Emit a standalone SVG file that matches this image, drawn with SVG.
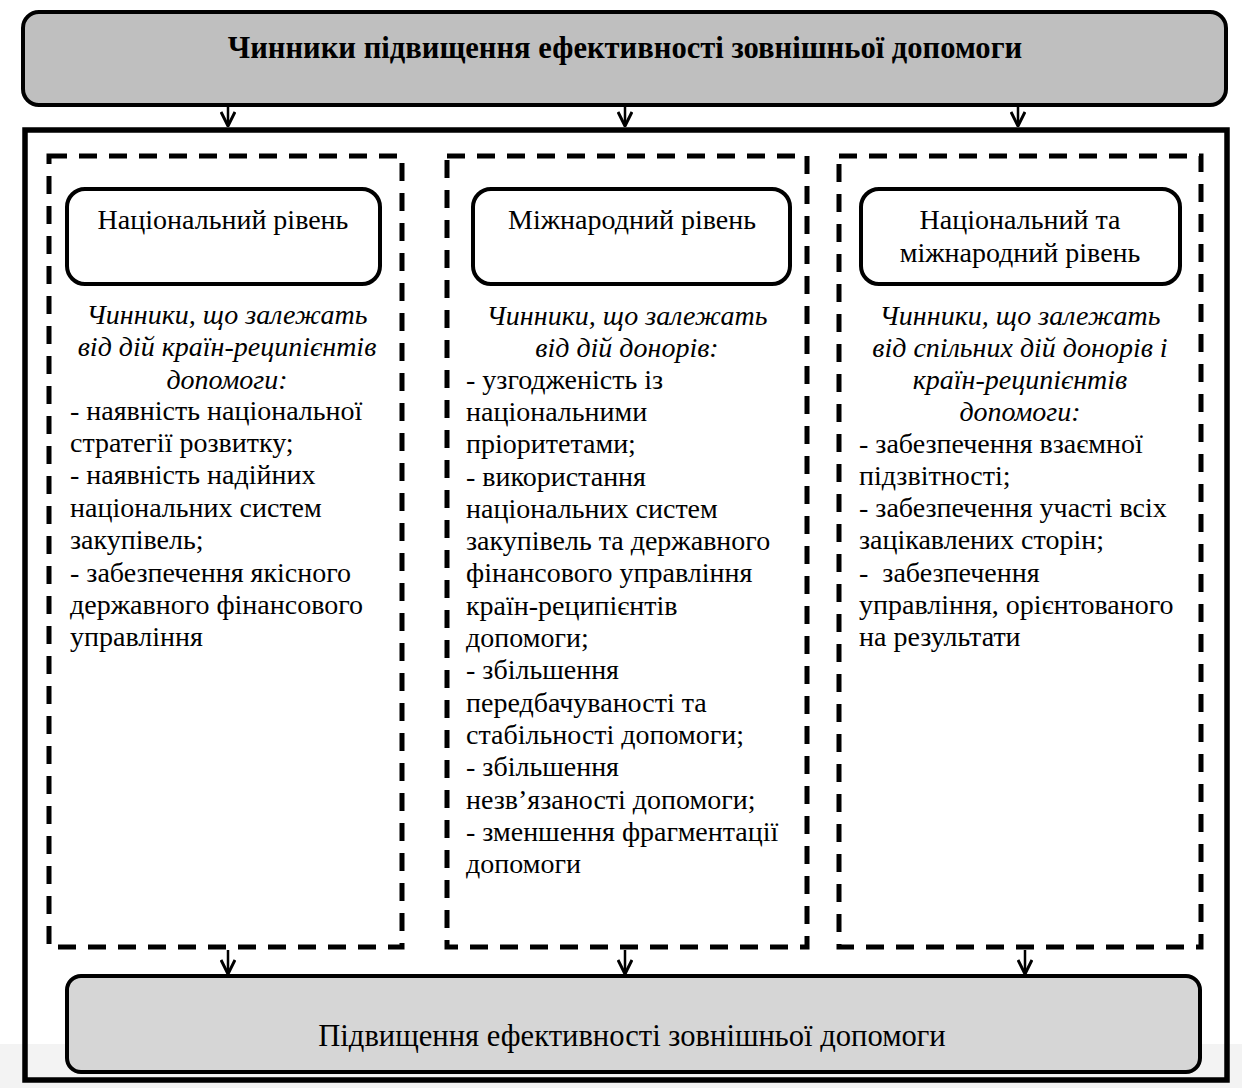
<svg xmlns="http://www.w3.org/2000/svg" width="1242" height="1088" viewBox="0 0 1242 1088">
<defs>
<style>
.box{stroke:#000;stroke-width:4;}
.dash{fill:none;stroke:#000;stroke-width:5;stroke-dasharray:18 12;}
.conn{stroke:#000;stroke-width:2.5;fill:none;}
.t{font-family:"Liberation Serif","Times New Roman",serif;font-size:28px;fill:#000;}
.big{font-size:30.6px;}
.it{font-family:"Liberation Serif","Times New Roman",serif;font-size:28px;font-style:italic;fill:#000;text-anchor:middle;}
.c{text-anchor:middle;}
</style>
<marker id="v" viewBox="0 0 16 16" refX="15" refY="8" markerWidth="16" markerHeight="16" markerUnits="userSpaceOnUse" orient="auto">
<path d="M1,1 L15,8 L1,15" fill="none" stroke="#000" stroke-width="3"/>
</marker>
</defs>
<rect width="1242" height="1088" fill="#fff"/>
<rect x="0" y="1044" width="1242" height="44" fill="#f3f3f3"/>
<g id="title">
<rect class="box" x="23" y="12" width="1203" height="93" rx="16" fill="#bfbfbf"/>
<text class="t c big" x="625" y="58" font-weight="bold">Чинники підвищення ефективності зовнішньої допомоги</text>
</g>
<g id="frame">
<rect x="25" y="130" width="1202" height="950" fill="none" stroke="#000" stroke-width="5.5"/>
</g>
<g id="col1">
<rect class="dash" x="49" y="156" width="353" height="791"/>
<rect class="box" x="67" y="189" width="313" height="95" rx="18" fill="#fff"/>
<text class="t c" x="223" y="229">Національний рівень</text>
<text class="it" x="227" y="324">Чинники, що залежать</text>
<text class="it" x="227" y="356">від дій країн-реципієнтів</text>
<text class="it" x="227" y="389">допомоги:</text>
<text class="t" x="70"><tspan x="70" y="420">- наявність національної</tspan><tspan x="70" y="452">стратегії розвитку;</tspan><tspan x="70" y="484">- наявність надійних</tspan><tspan x="70" y="517">національних систем</tspan><tspan x="70" y="549">закупівель;</tspan><tspan x="70" y="582">- забезпечення якісного</tspan><tspan x="70" y="614">державного фінансового</tspan><tspan x="70" y="646">управління</tspan></text>
</g>
<g id="col2">
<rect class="dash" x="447" y="156" width="360" height="791"/>
<rect class="box" x="473" y="189" width="317" height="95" rx="18" fill="#fff"/>
<text class="t c" x="632" y="229">Міжнародний рівень</text>
<text class="it" x="627" y="325">Чинники, що залежать</text>
<text class="it" x="627" y="357">від дій донорів:</text>
<text class="t" x="466"><tspan x="466" y="389">- узгодженість із</tspan><tspan x="466" y="421">національними</tspan><tspan x="466" y="453">пріоритетами;</tspan><tspan x="466" y="486">- використання</tspan><tspan x="466" y="518">національних систем</tspan><tspan x="466" y="550">закупівель та державного</tspan><tspan x="466" y="582">фінансового управління</tspan><tspan x="466" y="615">країн-реципієнтів</tspan><tspan x="466" y="647">допомоги;</tspan><tspan x="466" y="679">- збільшення</tspan><tspan x="466" y="712">передбачуваності та</tspan><tspan x="466" y="744">стабільності допомоги;</tspan><tspan x="466" y="776">- збільшення</tspan><tspan x="466" y="809">незв’язаності допомоги;</tspan><tspan x="466" y="841">- зменшення фрагментації</tspan><tspan x="466" y="873">допомоги</tspan></text>
</g>
<g id="col3">
<rect class="dash" x="839" y="156" width="362" height="791"/>
<rect class="box" x="861" y="189" width="319" height="95" rx="18" fill="#fff"/>
<text class="t c" x="1020" y="229">Національний та</text>
<text class="t c" x="1020" y="262">міжнародний рівень</text>
<text class="it" x="1020" y="325">Чинники, що залежать</text>
<text class="it" x="1020" y="357">від спільних дій донорів і</text>
<text class="it" x="1020" y="389">країн-реципієнтів</text>
<text class="it" x="1020" y="421">допомоги:</text>
<text class="t" x="859"><tspan x="859" y="453">- забезпечення взаємної</tspan><tspan x="859" y="485">підзвітності;</tspan><tspan x="859" y="517">- забезпечення участі всіх</tspan><tspan x="859" y="549">зацікавлених сторін;</tspan><tspan x="859" y="582" xml:space="preserve">-  забезпечення</tspan><tspan x="859" y="614">управління, орієнтованого</tspan><tspan x="859" y="646">на результати</tspan></text>
</g>
<g id="result">
<rect class="box" x="67" y="976" width="1133" height="96" rx="14" fill="#d6d6d6"/>
<text class="t c big" x="632" y="1046">Підвищення ефективності зовнішньої допомоги</text>
</g>
<g id="connectors">
<line class="conn" x1="228" y1="107" x2="228" y2="126" marker-end="url(#v)"/>
<line class="conn" x1="625" y1="107" x2="625" y2="126" marker-end="url(#v)"/>
<line class="conn" x1="1018" y1="107" x2="1018" y2="126" marker-end="url(#v)"/>
<line class="conn" x1="228" y1="950" x2="228" y2="974" marker-end="url(#v)"/>
<line class="conn" x1="625" y1="950" x2="625" y2="974" marker-end="url(#v)"/>
<line class="conn" x1="1025" y1="950" x2="1025" y2="974" marker-end="url(#v)"/>
</g>
</svg>
